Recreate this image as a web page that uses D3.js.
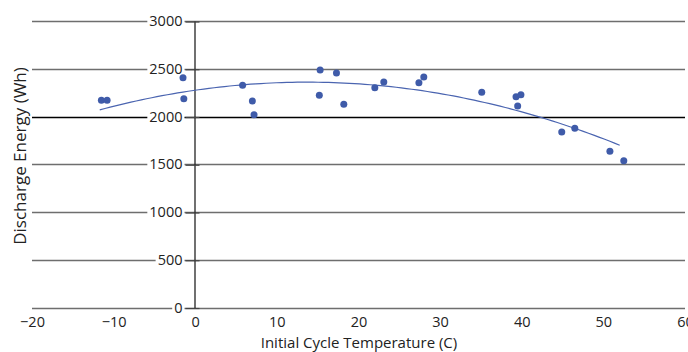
<!DOCTYPE html>
<html>
<head>
<meta charset="utf-8">
<script src="https://cdn.jsdelivr.net/npm/d3@7"></script>
<style>
  html, body { margin: 0; padding: 0; background: #fff; }
  svg { display: block; }
  text { font-family: "Open Sans", "Noto Sans", sans-serif; fill: #222; }
</style>
</head>
<body>
<svg id="chart" width="688" height="352"></svg>
<script>
// Data
const temperature = [-11.5, -10.8, -1.5, -1.4, 5.8, 7.0, 7.2, 15.3, 15.2, 17.3, 18.2,
                     22.0, 23.1, 27.4, 28.0, 35.1, 39.3, 39.9, 39.5, 44.9, 46.5, 50.8, 52.5];
const energy = [2170, 2170, 2406, 2187, 2327, 2162, 2019, 2487, 2222, 2455, 2128,
                2302, 2361, 2354, 2414, 2253, 2207, 2228, 2110, 1838, 1876, 1636, 1537];
const xTicks = [-20, -10, 0, 10, 20, 30, 40, 50, 60];
const yTicks = [0, 500, 1000, 1500, 2000, 2500, 3000];
const xTitle = "Initial Cycle Temperature (C)";
const yTitle = "Discharge Energy (Wh)";

const svg = d3.select("#chart");
const x = d3.scaleLinear().domain([-20, 60]).range([32, 685]);
const y = d3.scaleLinear().domain([0, 3000]).range([307.5, 21]);

// gridlines
svg.append("g").selectAll("line").data(yTicks).join("line")
  .attr("x1", x(-20)).attr("x2", x(60))
  .attr("y1", d => Math.round(y(d)) + 0.5).attr("y2", d => Math.round(y(d)) + 0.5)
  .attr("stroke", d => d === 2000 ? "#000" : "#6e6e6e")
  .attr("stroke-width", d => d === 2000 ? 1.6 : 1.3);

// vertical axis at x = 0
const yAxis = d3.axisLeft(y).tickValues(yTicks).tickSize(0).tickPadding(0).tickFormat(d3.format("d"));
const ya = svg.append("g").attr("transform", `translate(${Math.round(x(0)) - 0.5},0)`).call(yAxis);
ya.select(".domain").attr("stroke", "#111").attr("stroke-width", 1.2);
ya.selectAll(".tick text").attr("x", -12).style("font-size", "14.5px").attr("fill", "#222");
ya.selectAll(".tick").each(function () {
  const g = d3.select(this);
  const t = g.select("text").node().getBBox();
  g.insert("rect", "text").attr("x", t.x - 2).attr("y", t.y + 2).attr("width", t.width + 4).attr("height", t.height - 4).attr("fill", "#fff");
  g.append("line").attr("x1", -9).attr("x2", 5).attr("y1", 0.5).attr("y2", 0.5).attr("stroke", "#444").attr("stroke-width", 1.2);
});

// x tick labels
const xAxis = d3.axisBottom(x).tickValues(xTicks).tickSize(0).tickPadding(0);
const xa = svg.append("g").attr("transform", `translate(0,${y(0)})`).call(xAxis);
xa.select(".domain").remove();
xa.selectAll(".tick text").attr("y", 9).style("font-size", "14.5px").attr("fill", "#222");

// trend line: quadratic least-squares fit of the points
function polyfit2(xs, ys) {
  let S = [0,0,0,0,0], T = [0,0,0];
  xs.forEach((xv, i) => {
    let p = 1;
    for (let k = 0; k < 5; k++) { S[k] += p; if (k < 3) T[k] += p * ys[i]; p *= xv; }
  });
  const A = [[S[0],S[1],S[2],T[0]],[S[1],S[2],S[3],T[1]],[S[2],S[3],S[4],T[2]]];
  for (let i = 0; i < 3; i++) {
    for (let j = i + 1; j < 3; j++) {
      const f = A[j][i] / A[i][i];
      for (let k = i; k < 4; k++) A[j][k] -= f * A[i][k];
    }
  }
  const c = [0,0,0];
  for (let i = 2; i >= 0; i--) {
    let s = A[i][3];
    for (let k = i + 1; k < 3; k++) s -= A[i][k] * c[k];
    c[i] = s / A[i][i];
  }
  return c;
}
const c = polyfit2(temperature, energy);
const x0 = d3.min(temperature) - 0.2, x1 = d3.max(temperature) - 0.5;
const trend = d3.range(0, 101).map(i => { const t = x0 + (x1 - x0) * i / 100; return [t, c[0] + c[1]*t + c[2]*t*t]; });
svg.append("path").datum(trend)
  .attr("d", d3.line().x(d => x(d[0])).y(d => y(d[1])))
  .attr("fill", "none").attr("stroke", "#4a64b0").attr("stroke-width", 1.2);

// points
svg.append("g").selectAll("circle").data(temperature).join("circle")
  .attr("cx", d => x(d)).attr("cy", (d, i) => y(energy[i])).attr("r", 3.5)
  .attr("fill", "#3f5ba9");

// titles
svg.append("text").attr("x", 359).attr("y", 348).attr("text-anchor", "middle")
  .style("font-size", "15px").text(xTitle);
svg.append("text").attr("transform", "translate(26,156) rotate(-90)").attr("text-anchor", "middle")
  .style("font-size", "17px").text(yTitle);
</script>
</body>
</html>
